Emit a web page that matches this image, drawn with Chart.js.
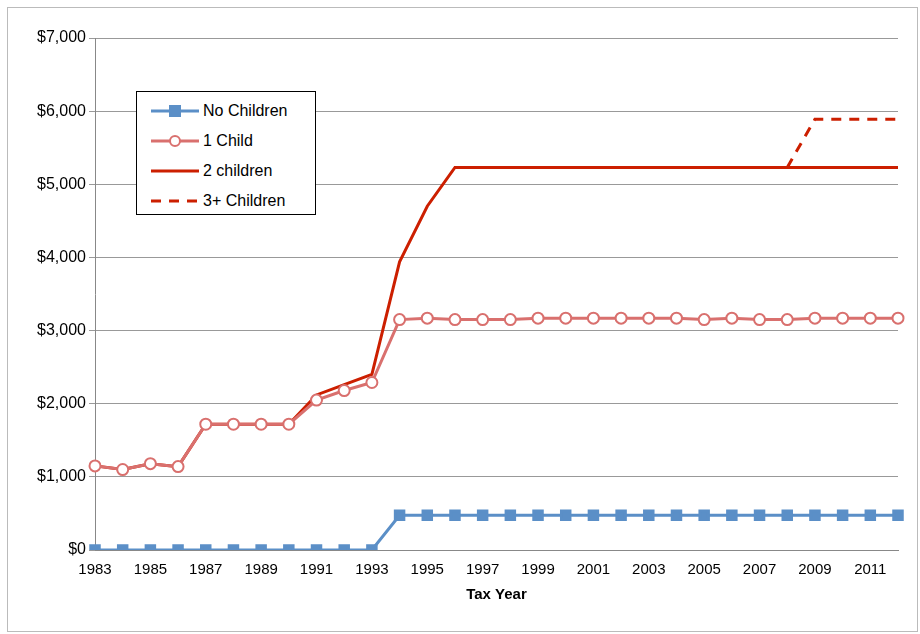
<!DOCTYPE html>
<html><head><meta charset="utf-8">
<script src="https://cdn.jsdelivr.net/npm/chart.js@4/dist/chart.umd.min.js"></script>
<style>
body{margin:0;background:#fff;font-family:"Liberation Sans",Arial,sans-serif}
#wrap{position:relative;width:920px;height:634px}
#frame{position:absolute;left:7px;top:7px;width:911px;height:625px;border:1px solid #bbb;box-sizing:border-box;pointer-events:none}
#legend{position:absolute;left:136px;top:91px;width:180px;height:124px;border:1px solid #000;background:#fff;box-sizing:border-box;font-size:16px;padding-top:4px}
#legend div{height:30px;display:flex;align-items:center}
#legend svg{margin:0 4px 0 14px}
</style></head><body>
<div id="wrap"><canvas id="c" width="920" height="634"></canvas><div id="frame"></div>
<div id="legend">
<div><svg width="48" height="14"><line x1="0" y1="7" x2="48" y2="7" stroke="#5b8fc7" stroke-width="3"/><rect x="18" y="1" width="12" height="12" fill="#5b8fc7"/></svg>No Children</div>
<div><svg width="48" height="14"><line x1="0" y1="7" x2="48" y2="7" stroke="#d9706e" stroke-width="3"/><circle cx="24" cy="7" r="5" fill="#fff" stroke="#d9706e" stroke-width="2"/></svg>1 Child</div>
<div><svg width="48" height="14"><line x1="0" y1="7" x2="48" y2="7" stroke="#cc1f00" stroke-width="3"/></svg>2 children</div>
<div><svg width="48" height="14"><line x1="0" y1="7" x2="48" y2="7" stroke="#cc1f00" stroke-width="3" stroke-dasharray="10,8"/></svg>3+ Children</div>
</div></div>
<script>
const years = []
for (let y = 1983; y <= 2012; y++) years.push(String(y))
const noChildren = [0,0,0,0,0,0,0,0,0,0,0,475,475,475,475,475,475,475,475,475,475,475,475,475,475,475,475,475,475,475]
const oneChild = [1150,1100,1180,1140,1720,1720,1720,1720,2050,2180,2290,3150,3170,3150,3150,3150,3170,3170,3170,3170,3170,3170,3150,3170,3150,3150,3170,3170,3170,3170]
const twoChildren = [1150,1100,1180,1140,1720,1720,1720,1720,2120,2260,2400,3940,4700,5230,5230,5230,5230,5230,5230,5230,5230,5230,5230,5230,5230,5230,5230,5230,5230,5230]
const threeChildren = [null,null,null,null,null,null,null,null,null,null,null,null,null,null,null,null,null,null,null,null,null,null,null,null,null,5230,5890,5890,5890,5890]

Chart.defaults.font.family = '"Liberation Sans", Arial, sans-serif'
Chart.defaults.color = '#000'
new Chart(document.getElementById('c'), {
    type: 'line',
    data: {
        labels: years,
        datasets: [
            {label: '3+ Children', data: threeChildren, borderColor: '#cc1f00', borderWidth: 3, borderDash: [10, 8], pointRadius: 0, order: 3},
            {label: '2 children', data: twoChildren, borderColor: '#cc1f00', borderWidth: 3, pointRadius: 0, order: 2},
            {label: '1 Child', data: oneChild, borderColor: '#d9706e', borderWidth: 3, pointStyle: 'circle', pointRadius: 5.5, pointBorderWidth: 2, pointBackgroundColor: '#fff', order: 1},
            {label: 'No Children', data: noChildren, borderColor: '#5b8fc7', backgroundColor: '#5b8fc7', borderWidth: 3, pointStyle: 'rect', pointRadius: 6, order: 0}
        ]
    },
    options: {
        responsive: false,
        animation: false,
        layout: {padding: {top: 38, right: 22, left: 20, bottom: 26}},
        plugins: {legend: {display: false}, tooltip: {enabled: false}},
        scales: {
            x: {
                grid: {display: false},
                border: {color: '#888'},
                ticks: {maxRotation: 0, autoSkip: false, font: {size: 15},
                    callback: function (v, i) { return i % 2 == 0 ? years[i] : '' }},
                title: {display: true, text: 'Tax Year', font: {size: 15, weight: 'bold'}}
            },
            y: {
                min: 0, max: 7000,
                afterFit: s => { s.width = 75 },
                grid: {color: '#999', drawTicks: true, tickLength: 6},
                border: {color: '#888'},
                ticks: {stepSize: 1000, font: {size: 16},
                    callback: v => '$' + v.toLocaleString('en-US')}
            }
        }
    }
})
</script>
</body></html>
